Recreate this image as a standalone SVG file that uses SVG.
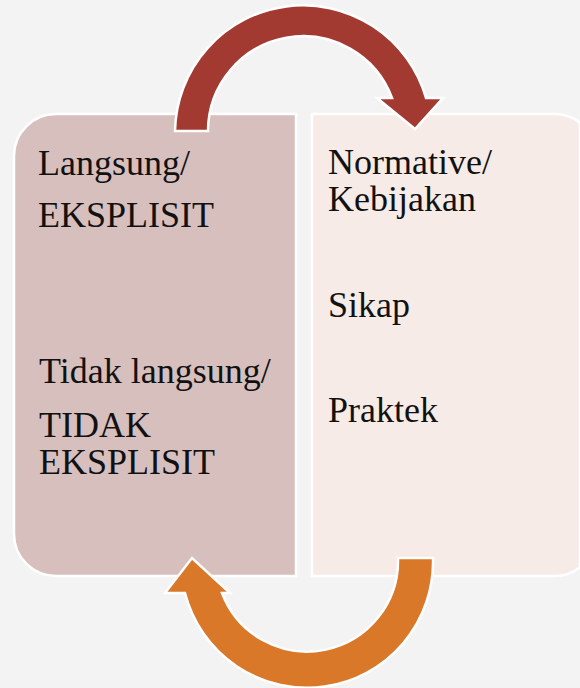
<svg xmlns="http://www.w3.org/2000/svg" width="580" height="688" viewBox="0 0 580 688">
  <style>
    .box { stroke: #ffffff; stroke-width: 2.5; }
    .lbl { font-family: "Liberation Serif", "Times New Roman", serif; font-size: 36px; fill: #111111; }
    .arr { stroke: #ffffff; stroke-width: 2.5; stroke-linejoin: miter; }
  </style>
  <rect x="0" y="0" width="580" height="688" fill="#f3f3f3"/>
  <g id="node-left">
    <path class="box" fill="#d7bfbe" d="M296,114 V576 H56 A42,42 0 0 1 14,534 V156 A42,42 0 0 1 56,114 Z"/>
    <text class="lbl" x="38" y="175">Langsung/</text>
    <text class="lbl" x="38" y="227">EKSPLISIT</text>
    <text class="lbl" x="39" y="383">Tidak langsung/</text>
    <text class="lbl" x="39" y="437">TIDAK</text>
    <text class="lbl" x="39" y="474">EKSPLISIT</text>
  </g>
  <g id="node-right">
    <path class="box" fill="#f6ebe7" d="M312,114 H555 A40,40 0 0 1 580,122.8 V567.2 A40,40 0 0 1 555,576 H312 Z"/>
    <text class="lbl" x="328" y="174">Normative/</text>
    <text class="lbl" x="328" y="211">Kebijakan</text>
    <text class="lbl" x="328" y="317">Sikap</text>
    <text class="lbl" x="328" y="422">Praktek</text>
  </g>
  <g id="connectors">
    <path class="arr" fill="#a33a32" d="M175,131 A128,128 0 0 1 426,98 L443,98 L415,129 L377,98 L392,98 A95,95 0 0 0 208,131 Z"/>
    <path class="arr" fill="#d97828" d="M433,558 A126,126 0 0 1 185,593 L165,593 L192,558 L230,593 L222,593 A91,91 0 0 0 398,558 Z"/>
  </g>
</svg>
